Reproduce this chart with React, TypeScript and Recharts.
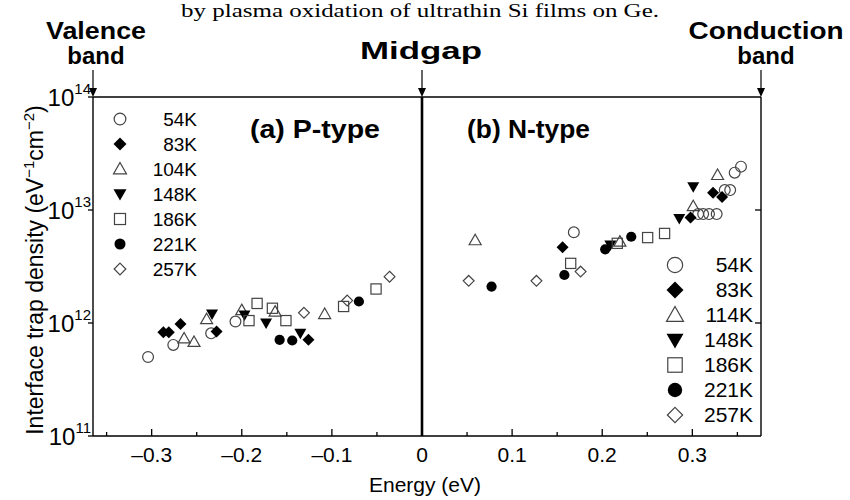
import React from "react";
import { ScatterChart, Scatter, XAxis, YAxis, Legend, ReferenceLine } from "recharts";

// energy (eV), trap density (eV^-1 cm^-2)
const P_54K = [[-0.304, 5.0e11], [-0.276, 6.4e11], [-0.234, 8.1e11], [-0.207, 1.03e12]];
const P_83K = [[-0.287, 8.3e11], [-0.281, 8.3e11], [-0.268, 9.8e11], [-0.228, 8.4e11], [-0.126, 7.1e11]];
const P_104K = [[-0.264, 7.3e11], [-0.253, 6.8e11], [-0.239, 1.08e12], [-0.2, 1.3e12], [-0.163, 1.26e12], [-0.108, 1.2e12]];
const P_148K = [[-0.233, 1.2e12], [-0.197, 1.18e12], [-0.173, 1.0e12], [-0.135, 8.1e11]];
const P_186K = [[-0.192, 1.05e12], [-0.183, 1.49e12], [-0.166, 1.35e12], [-0.151, 1.05e12], [-0.087, 1.4e12], [-0.051, 2.0e12]];
const P_221K = [[-0.158, 7.1e11], [-0.144, 7.0e11], [-0.07, 1.55e12]];
const P_257K = [[-0.131, 1.23e12], [-0.083, 1.58e12], [-0.036, 2.57e12]];

const N_54K = [[0.1685, 6.35e12], [0.3065, 9.2e12], [0.312, 9.2e12], [0.3185, 9.2e12], [0.327, 9.2e12], [0.336, 1.5e13], [0.342, 1.5e13], [0.347, 2.14e13], [0.354, 2.42e13]];
const N_83K = [[0.156, 4.68e12], [0.298, 8.6e12], [0.323, 1.42e13], [0.333, 1.3e13]];
const N_114K = [[0.059, 5.4e12], [0.2196, 5.25e12], [0.301, 1.08e13], [0.328, 2.04e13]];
const N_148K = [[0.209, 4.9e12], [0.2855, 8.4e12], [0.301, 1.61e13]];
const N_186K = [[0.165, 3.37e12], [0.2167, 5.07e12], [0.2504, 5.7e12], [0.2692, 6.2e12]];
const N_221K = [[0.0772, 2.1e12], [0.158, 2.66e12], [0.2033, 4.49e12], [0.2322, 5.8e12]];
const N_257K = [[0.0518, 2.36e12], [0.127, 2.36e12], [0.176, 2.85e12]];

const P_LABELS = ["54K", "83K", "104K", "148K", "186K", "221K", "257K"];
const N_LABELS = ["54K", "83K", "114K", "148K", "186K", "221K", "257K"];
const P_DATA = [P_54K, P_83K, P_104K, P_148K, P_186K, P_221K, P_257K];
const N_DATA = [N_54K, N_83K, N_114K, N_148K, N_186K, N_221K, N_257K];

const X_TICKS = [-0.35, -0.3, -0.25, -0.2, -0.15, -0.1, -0.05, 0, 0.05, 0.1, 0.15, 0.2, 0.25, 0.3, 0.35];
const Y_TICKS = [1e11, 1e12, 1e13, 1e14];
const X_DOMAIN = [-0.3651, 0.3762];
const Y_DOMAIN = [1e11, 1e14];

const MARKERS = ["circle", "diamond", "triUp", "triDown", "square", "dot", "openDiamond"];
const FONT = "'Liberation Sans', Arial, sans-serif";
const OPEN = "#444";

const toPts = (arr: number[][]) => arr.map(([e, d]) => ({ e, d }));

function Marker({ cx, cy, kind, s }: { cx: number; cy: number; kind: string; s: number }) {
  const r = s / 2;
  switch (kind) {
    case "circle":
      return <circle cx={cx} cy={cy} r={r * 0.9} fill="none" stroke={OPEN} strokeWidth={1.2} />;
    case "dot":
      return <circle cx={cx} cy={cy} r={r * 0.85} fill="#000" />;
    case "diamond":
      return <polygon points={`${cx},${cy - r} ${cx + r},${cy} ${cx},${cy + r} ${cx - r},${cy}`} fill="#000" />;
    case "openDiamond":
      return <polygon points={`${cx},${cy - r * 0.9} ${cx + r * 0.9},${cy} ${cx},${cy + r * 0.9} ${cx - r * 0.9},${cy}`} fill="none" stroke={OPEN} strokeWidth={1.2} />;
    case "triUp":
      return <polygon points={`${cx},${cy - r} ${cx + r},${cy + r * 0.75} ${cx - r},${cy + r * 0.75}`} fill="none" stroke={OPEN} strokeWidth={1.2} />;
    case "triDown":
      return <polygon points={`${cx - r},${cy - r * 0.75} ${cx + r},${cy - r * 0.75} ${cx},${cy + r}`} fill="#000" />;
    default:
      return <rect x={cx - r * 0.85} y={cy - r * 0.85} width={r * 1.7} height={r * 1.7} fill="none" stroke={OPEN} strokeWidth={1.2} />;
  }
}

const fmt = (v: number) => (Math.abs(v) < 1e-9 ? "0" : v < 0 ? "\u2013" + Math.abs(v).toFixed(1) : v.toFixed(1));
const isMajor = (v: number) => Math.abs(v * 10 - Math.round(v * 10)) < 1e-6;

function BottomTick(props: any) {
  const { x, y, payload } = props;
  const major = isMajor(payload.value);
  return (
    <g>
      <line x1={x} x2={x} y1={y} y2={y - (major ? 7 : 4)} stroke="#000" strokeWidth={1.3} />
      {major && (
        <text x={x} y={y + 26} textAnchor="middle" fontSize={21} fontFamily={FONT} fill="#000">
          {fmt(payload.value)}
        </text>
      )}
    </g>
  );
}

function TopTick(props: any) {
  const { x, y, payload } = props;
  const major = isMajor(payload.value);
  return <line x1={x} x2={x} y1={y} y2={y + (major ? 7 : 4)} stroke="#000" strokeWidth={1.3} />;
}

function LeftTick(props: any) {
  const { x, y, payload } = props;
  const exp = Math.round(Math.log10(payload.value));
  return (
    <g>
      <line x1={x} x2={x - 5} y1={y} y2={y} stroke="#000" strokeWidth={1.3} />
      <text x={x - 2} y={y + 9} textAnchor="end" fontSize={24} fontFamily={FONT} fill="#000">
        10
        <tspan dy={-12} fontSize={15}>
          {exp}
        </tspan>
      </text>
    </g>
  );
}

function InnerRightTick(props: any) {
  const { x, y, payload } = props;
  if (payload.value <= 1e11 || payload.value >= 1e14) return <g />;
  return <line x1={x} x2={x - 6} y1={y} y2={y} stroke="#000" strokeWidth={1.3} />;
}

function LegendBlock({ labels, left, top, s, fs, textX }: any) {
  return (
    <svg width={textX + 4} height={190} style={{ position: "absolute", left, top }}>
      {labels.map((lab: string, i: number) => (
        <g key={lab + i}>
          <Marker cx={20} cy={15 + i * 25} kind={MARKERS[i]} s={s} />
          <text x={textX} y={15 + i * 25 + 7} textAnchor="end" fontSize={fs} fontFamily={FONT} fill="#000">
            {lab}
          </text>
        </g>
      ))}
    </svg>
  );
}

const renderLegend = () => (
  <div style={{ position: "relative", width: 850, height: 500 }}>
    <LegendBlock labels={P_LABELS} left={100} top={104} s={13} fs={19} textX={97} />
    <LegendBlock labels={N_LABELS} left={655} top={250} s={17} fs={21} textX={98} />
  </div>
);

const axisLine = { stroke: "#000", strokeWidth: 1.4 };

export default function App() {
  return (
    <div style={{ position: "absolute", left: 0, top: 0, width: 850, height: 500, background: "#fff" }}>
      <ScatterChart width={850} height={500} margin={{ top: 96, left: 33, right: 88, bottom: 24 }}>
        <XAxis dataKey="e" type="number" domain={X_DOMAIN} ticks={X_TICKS} height={40} tickSize={0} tickMargin={0}
          axisLine={axisLine} tick={(p: any) => <BottomTick {...p} />} allowDataOverflow />
        <XAxis xAxisId="top" orientation="top" type="number" domain={X_DOMAIN} ticks={X_TICKS} height={1}
          tickSize={0} tickMargin={0} axisLine={axisLine} tick={(p: any) => <TopTick {...p} />} allowDataOverflow />
        <YAxis dataKey="d" type="number" scale="log" domain={Y_DOMAIN} ticks={Y_TICKS} width={60}
          tickSize={0} tickMargin={0} axisLine={axisLine} tick={(p: any) => <LeftTick {...p} />} allowDataOverflow />
        <YAxis yAxisId="r" orientation="right" type="number" scale="log" domain={Y_DOMAIN} ticks={Y_TICKS} width={1}
          tickSize={0} tickMargin={0} axisLine={axisLine} tick={(p: any) => <InnerRightTick {...p} />} allowDataOverflow />
        {/* midgap divider between the P-type and N-type panels */}
        <ReferenceLine x={0} stroke="#000" strokeWidth={2.6} />
        <Legend layout="vertical" align="center" verticalAlign="middle"
          wrapperStyle={{ left: 0, top: 0, width: 850, height: 500, pointerEvents: "none" }} content={renderLegend} />
        {P_DATA.map((d, i) => (
          <Scatter key={"p" + P_LABELS[i]} name={"P " + P_LABELS[i]} data={toPts(d)} isAnimationActive={false}
            shape={(p: any) => <Marker cx={p.cx} cy={p.cy} kind={MARKERS[i]} s={12} />} />
        ))}
        {N_DATA.map((d, i) => (
          <Scatter key={"n" + N_LABELS[i]} name={"N " + N_LABELS[i]} data={toPts(d)} isAnimationActive={false}
            shape={(p: any) => <Marker cx={p.cx} cy={p.cy} kind={MARKERS[i]} s={12} />} />
        ))}
      </ScatterChart>

      {/* annotations */}
      <svg width={850} height={500} style={{ position: "absolute", left: 0, top: 0, pointerEvents: "none" }}>
        <text x={420} y={17} textAnchor="middle" fontSize={19} fontFamily="'Liberation Serif', 'Times New Roman', serif"
          textLength={478} lengthAdjust="spacingAndGlyphs">
          by plasma oxidation of ultrathin Si films on Ge.
        </text>
        <g fontFamily={FONT} fontWeight="bold" fontSize={24} textAnchor="middle" fill="#000">
          <text x={96} y={39} textLength={100} lengthAdjust="spacingAndGlyphs">Valence</text>
          <text x={96} y={64}>band</text>
          <text x={421} y={59} textLength={122} lengthAdjust="spacingAndGlyphs">Midgap</text>
          <text x={766} y={39} textLength={155} lengthAdjust="spacingAndGlyphs">Conduction</text>
          <text x={766} y={64}>band</text>
        </g>
        {[93, 422, 761].map((ax) => (
          <g key={ax}>
            <line x1={ax} x2={ax} y1={70} y2={90} stroke="#000" strokeWidth={1.2} />
            <polygon points={`${ax - 4},${88} ${ax + 4},${88} ${ax},${97}`} fill="#000" />
          </g>
        ))}
        <g fontFamily={FONT} fontWeight="bold" fontSize={26} fill="#000">
          <text x={250} y={138} textLength={130} lengthAdjust="spacingAndGlyphs">(a) P-type</text>
          <text x={467} y={138} textLength={123} lengthAdjust="spacingAndGlyphs">(b) N-type</text>
        </g>
        <text x={425} y={492} textAnchor="middle" fontSize={21} fontFamily={FONT} fill="#000">
          Energy (eV)
        </text>
        <text transform="translate(43, 270) rotate(-90)" textAnchor="middle" fontSize={23} fontFamily={FONT} fill="#000">
          Interface trap density (eV
          <tspan dy={-9} fontSize={15}>{"\u22121"}</tspan>
          <tspan dy={9}>cm</tspan>
          <tspan dy={-9} fontSize={15}>{"\u22122"}</tspan>
          <tspan dy={9}>)</tspan>
        </text>
      </svg>
    </div>
  );
}
